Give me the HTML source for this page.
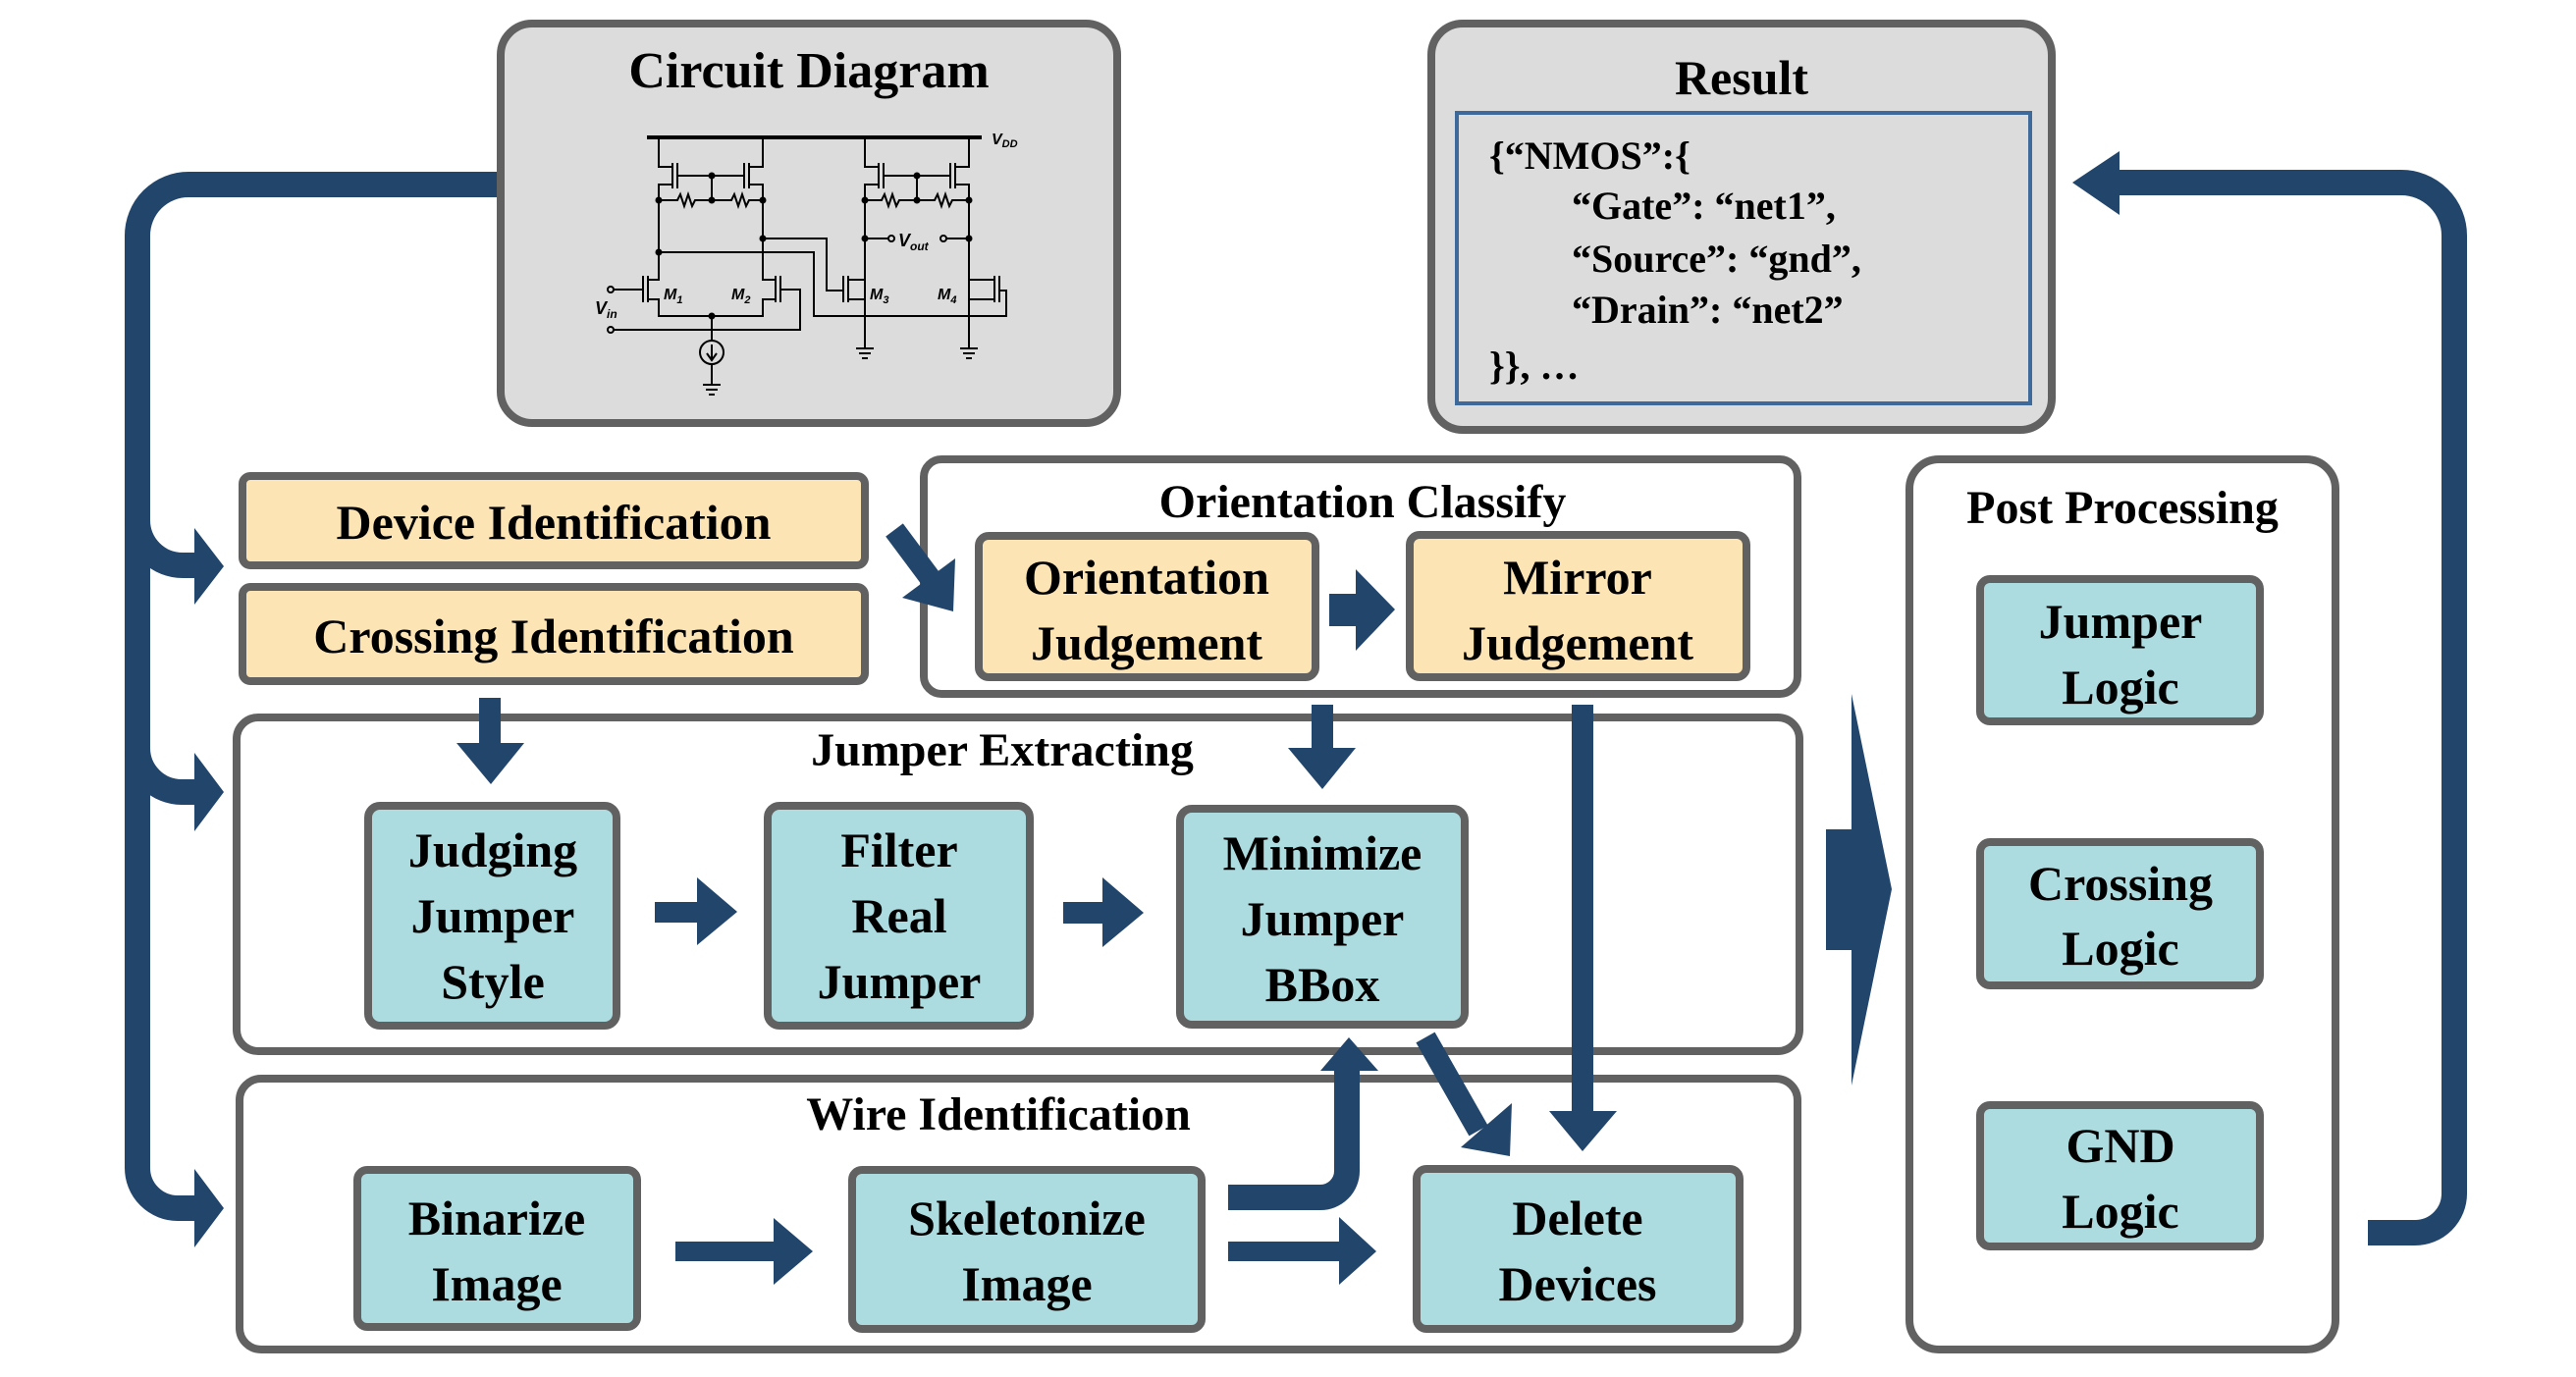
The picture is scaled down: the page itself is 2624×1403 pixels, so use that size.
<!DOCTYPE html>
<html><head><meta charset="utf-8"><style>
html,body{margin:0;padding:0;background:#fff;}
svg{display:block;font-family:"Liberation Serif","Times New Roman",Times,serif;}
svg text{font-family:"Liberation Serif","Times New Roman",Times,serif;font-weight:bold;fill:#000;}
</style></head><body>
<svg width="2624" height="1403" viewBox="0 0 2624 1403" xmlns="http://www.w3.org/2000/svg" font-family="Liberation Serif, Times New Roman, serif">
<g stroke="#616161" stroke-width="8">
<rect x="510" y="24" width="628" height="407" rx="32" fill="#dcdcdc"/>
<rect x="1458" y="24" width="632" height="414" rx="32" fill="#dcdcdc"/>
<rect x="941" y="468" width="890" height="239" rx="18" fill="#fff"/>
<rect x="241" y="731" width="1592" height="340" rx="22" fill="#fff"/>
<rect x="244" y="1099" width="1587" height="276" rx="22" fill="#fff"/>
<rect x="1945" y="468" width="434" height="907" rx="30" fill="#fff"/>
<g fill="#fde4b5">
<rect x="247" y="485" width="634" height="91" rx="8"/>
<rect x="247" y="598" width="634" height="96" rx="8"/>
<rect x="997" y="546" width="343" height="144" rx="10"/>
<rect x="1436" y="545" width="343" height="145" rx="10"/>
</g>
<g fill="#acdce0">
<rect x="375" y="821" width="253" height="224" rx="12"/>
<rect x="782" y="821" width="267" height="224" rx="12"/>
<rect x="1202" y="824" width="290" height="220" rx="12"/>
<rect x="364" y="1192" width="285" height="160" rx="10"/>
<rect x="868" y="1192" width="356" height="162" rx="10"/>
<rect x="1443" y="1191" width="329" height="163" rx="10"/>
<rect x="2017" y="590" width="285" height="145" rx="10"/>
<rect x="2017" y="858" width="285" height="146" rx="10"/>
<rect x="2017" y="1126" width="285" height="144" rx="10"/>
</g>
</g>
<rect x="1484" y="115" width="584" height="296" fill="none" stroke="#3d6a9a" stroke-width="4"/>

<g stroke="#000" stroke-width="2" fill="none">
<line x1="659" y1="140" x2="1000" y2="140" stroke-width="4"/>
<path d="M671 140 V170 H685 M777 140 V170 H763"/>
<path d="M685 166 V192 M690 166 V192 M763 166 V192 M758 166 V192"/>
<path d="M690 179 H758 M685 188 H671 V257 M763 188 H777 V243"/>
<path d="M671 204 H690 l3 -6 l4 12 l4 -12 l4 12 l3 -6 H725 H745 l3 -6 l4 12 l4 -12 l4 12 l3 -6 H777"/>
<path d="M725 179 V204"/>
<path d="M881 140 V170 H895 M987 140 V170 H973"/>
<path d="M895 166 V192 M900 166 V192 M973 166 V192 M968 166 V192"/>
<path d="M900 179 H968 M895 188 H881 V355 M973 188 H987 V355"/>
<path d="M881 204 H898 l3 -6 l4 12 l4 -12 l4 12 l3 -6 H934 H952 l3 -6 l4 12 l4 -12 l4 12 l3 -6 H987"/>
<path d="M934 179 V204"/>
<path d="M881 243 H905 M964 243 H987"/>
<circle cx="908" cy="243" r="3"/><circle cx="961" cy="243" r="3"/>
<path d="M777 243 H842 V296 H859 M671 257 H829 V322 H1025 V296 H1018"/>
<path d="M671 257 V285 H660 M660 281 V308 M655 281 V308 M660 305 H671 V322 H777 V305 H790 M790 281 V308 M795 281 V308 M790 285 H777 V243"/>
<path d="M655 295 H625 M795 295 H815 V336 H625"/>
<circle cx="622" cy="295" r="3"/><circle cx="622" cy="336" r="3"/>
<path d="M859 281 V308 M864 281 V308 M864 285 H881 M864 305 H881"/>
<path d="M1013 281 V308 M1018 281 V308 M1013 285 H987 M1013 305 H987"/>
<path d="M725 322 V347 M725 371 V392"/>
<circle cx="725" cy="359" r="12"/>
<path d="M725 351 V366 M720 360 L725 367 L730 360"/>
<path d="M716 392 H734 M719 397 H731 M722 402 H728 M872 355 H890 M875 360 H887 M878 365 H884 M978 355 H996 M981 360 H993 M984 365 H990"/>
</g>
<g fill="#000">
<circle cx="671" cy="204" r="3.5"/><circle cx="725" cy="204" r="3.5"/><circle cx="777" cy="204" r="3.5"/>
<circle cx="881" cy="204" r="3.5"/><circle cx="934" cy="204" r="3.5"/><circle cx="987" cy="204" r="3.5"/>
<circle cx="725" cy="179" r="3.5"/><circle cx="934" cy="179" r="3.5"/>
<circle cx="777" cy="243" r="3.5"/><circle cx="671" cy="257" r="3.5"/><circle cx="881" cy="243" r="3.5"/><circle cx="987" cy="243" r="3.5"/><circle cx="725" cy="322" r="3.5"/>
</g>
<g font-family="Liberation Sans, Arial, sans-serif">
<text x="1010" y="147" font-size="16" style="font-family:'Liberation Sans',sans-serif;font-style:italic">V<tspan font-size="11" dy="3">DD</tspan></text>
<text x="915" y="251" font-size="18" style="font-family:'Liberation Sans',sans-serif;font-style:italic">V<tspan font-size="12" dy="4">out</tspan></text>
<text x="606" y="320" font-size="18" style="font-family:'Liberation Sans',sans-serif;font-style:italic">V<tspan font-size="12" dy="4">in</tspan></text>
<text x="676" y="305" font-size="16" style="font-family:'Liberation Sans',sans-serif;font-style:italic">M<tspan font-size="11" dy="4">1</tspan></text>
<text x="745" y="305" font-size="16" style="font-family:'Liberation Sans',sans-serif;font-style:italic">M<tspan font-size="11" dy="4">2</tspan></text>
<text x="886" y="305" font-size="16" style="font-family:'Liberation Sans',sans-serif;font-style:italic">M<tspan font-size="11" dy="4">3</tspan></text>
<text x="955" y="305" font-size="16" style="font-family:'Liberation Sans',sans-serif;font-style:italic">M<tspan font-size="11" dy="4">4</tspan></text>
</g>

<g stroke="#22456b" stroke-width="26" fill="none">
<path d="M506 188 H192 A52 52 0 0 0 140 240 V1190 A41 41 0 0 0 181 1231 H202"/>
<path d="M140 530 A46 46 0 0 0 186 576 H202"/>
<path d="M140 762 A45 45 0 0 0 185 807 H202"/>
<path d="M2412 1256 H2460 A40 40 0 0 0 2500 1216 V240 A54 54 0 0 0 2446 186 H2150"/>
<path d="M1251 1220 H1345 A27 27 0 0 0 1372 1193 V1085"/>
</g>
<g stroke="#22456b" stroke-width="22" fill="none">
<line x1="911" y1="540" x2="952" y2="595"/>
<line x1="1452" y1="1057" x2="1506" y2="1152"/>
<line x1="499" y1="711" x2="499" y2="760"/>
<line x1="1347" y1="718" x2="1347" y2="764"/>
<line x1="1612" y1="718" x2="1612" y2="1135"/>
</g>
<g fill="#22456b">
<polygon points="198,538 228,577 198,616"/>
<polygon points="198,767 228,807 198,847"/>
<polygon points="198,1191 228,1231 198,1271"/>
<polygon points="2159,154 2111,186 2159,219"/>
<polygon points="971,623 919,609 973,569"/>
<polygon points="1538,1178 1488,1169 1540,1124"/>
<polygon points="465,757 534,757 500,799"/>
<polygon points="1312,762 1381,762 1347,804"/>
<polygon points="1578,1132 1647,1132 1612,1173"/>
<polygon points="1345,1091 1404,1091 1374,1057"/>
<polygon points="1354,605 1381,605 1381,580 1421,621 1381,663 1381,638 1354,638"/>
<polygon points="667,919 710,919 710,894 751,929 710,963 710,940 667,940"/>
<polygon points="1083,919 1123,919 1123,894 1165,930 1123,965 1123,941 1083,941"/>
<polygon points="688,1265 788,1265 788,1241 828,1275 788,1309 788,1285 688,1285"/>
<polygon points="1251,1265 1364,1265 1364,1240 1402,1275 1364,1309 1364,1285 1251,1285"/>
<polygon points="1860,845 1886,845 1886,707 1927,906 1886,1106 1886,968 1860,968"/>
</g>

<g text-anchor="middle" font-size="50" font-family="Liberation Serif, Times New Roman, serif" font-weight="bold">
<text x="824" y="89" font-size="52">Circuit Diagram</text>
<text x="1774" y="96" font-size="50">Result</text>
<text x="564" y="549">Device Identification</text>
<text x="564" y="665">Crossing Identification</text>
<text x="1388" y="527" font-size="48">Orientation Classify</text>
<text x="1168" y="605">Orientation</text>
<text x="1168" y="672">Judgement</text>
<text x="1607" y="605">Mirror</text>
<text x="1607" y="672">Judgement</text>
<text x="1021" y="780" font-size="48">Jumper Extracting</text>
<text x="502" y="883">Judging</text>
<text x="502" y="950">Jumper</text>
<text x="502" y="1017">Style</text>
<text x="916" y="883">Filter</text>
<text x="916" y="950">Real</text>
<text x="916" y="1017">Jumper</text>
<text x="1347" y="886">Minimize</text>
<text x="1347" y="953">Jumper</text>
<text x="1347" y="1020">BBox</text>
<text x="1017" y="1151" font-size="48">Wire Identification</text>
<text x="506" y="1258">Binarize</text>
<text x="506" y="1325">Image</text>
<text x="1046" y="1258">Skeletonize</text>
<text x="1046" y="1325">Image</text>
<text x="1607" y="1258">Delete</text>
<text x="1607" y="1325">Devices</text>
<text x="2162" y="533" font-size="48">Post Processing</text>
<text x="2160" y="650">Jumper</text>
<text x="2160" y="717">Logic</text>
<text x="2160" y="917">Crossing</text>
<text x="2160" y="983">Logic</text>
<text x="2160" y="1184">GND</text>
<text x="2160" y="1251">Logic</text>
</g>
<g font-size="40" font-family="Liberation Serif, Times New Roman, serif" font-weight="bold">
<text x="1517" y="172">{“NMOS”:{</text>
<text x="1601" y="223">“Gate”: “net1”,</text>
<text x="1601" y="277">“Source”: “gnd”,</text>
<text x="1601" y="329">“Drain”: “net2”</text>
<text x="1517" y="386">}}, …</text>
</g>
</svg>
</body></html>
